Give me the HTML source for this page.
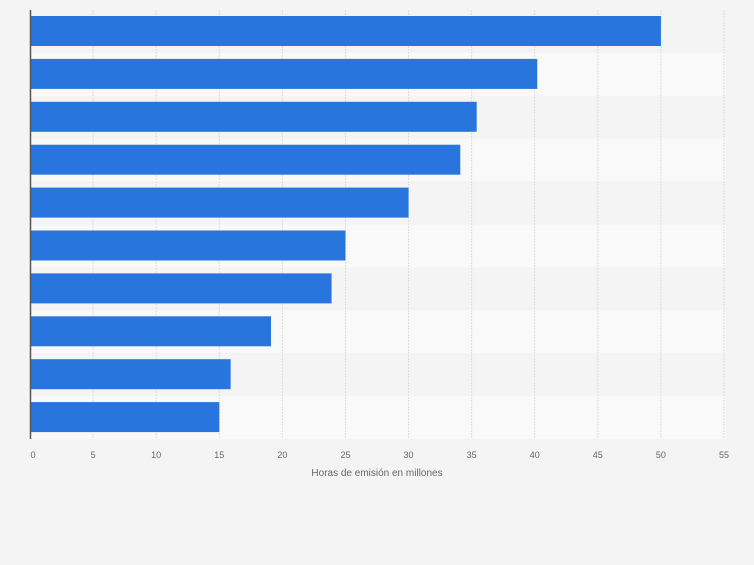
<!DOCTYPE html>
<html><head><meta charset="utf-8"><style>
body{margin:0;background:#f4f4f4;font-family:"Liberation Sans",sans-serif;}
</style></head><body>
<svg width="754" height="560" xmlns="http://www.w3.org/2000/svg">
<rect width="754" height="560" fill="#f4f4f4"/>
<g id="rows"></g><g id="grid"></g><g id="bars"></g><g id="ticks"></g>
<line x1="30.5" y1="10" x2="30.5" y2="439" stroke="#555" stroke-width="1.5"/>
<text x="377" y="476" text-anchor="middle" font-size="10" fill="#666">Horas de emisión en millones</text>
</svg>
<script>
const values=[50,40.2,35.4,34.1,30,25,23.9,19.1,15.9,15];
const tickValues=[0,5,10,15,20,25,30,35,40,45,50,55];
const ns="http://www.w3.org/2000/svg";
const x0=30,x1=724,y0=10,band=42.9;
const xs=v=>x0+(x1-x0)*v/55;
const rows=document.getElementById('rows'),grid=document.getElementById('grid'),bars=document.getElementById('bars'),ticks=document.getElementById('ticks');
function mk(t,a,p){const e=document.createElementNS(ns,t);for(const k in a)e.setAttribute(k,a[k]);p.appendChild(e);return e;}
values.forEach((v,i)=>{
 const r=mk('rect',{x:x0,y:y0+i*band,width:x1+2-x0,height:band,fill:i%2?'#f9f9f9':'#f4f4f4'},rows);
 
 
 const b=mk('rect',{x:x0,y:y0+i*band+6,width:xs(v)-x0,height:30,fill:'#2876dd'},bars);
 
 
});
tickValues.forEach(t=>{
 if(t>0){const g=mk('line',{x1:xs(t),x2:xs(t),y1:y0,y2:439,stroke:'#ddd','stroke-dasharray':'2,1'},grid);
 
 }
 const l=mk('text',{x:xs(t)+(t==0?3:0),y:458,'text-anchor':'middle','font-size':9,fill:'#666'},ticks);
 l.textContent=t;
 
 
});
</script>
</body></html>
